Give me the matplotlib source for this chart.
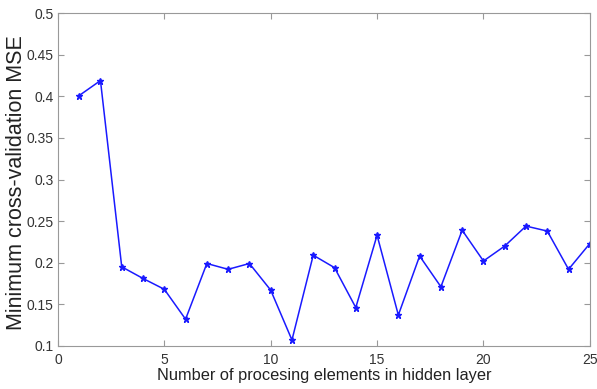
import matplotlib
matplotlib.use("Agg")
import matplotlib.pyplot as plt

x_vals = list(range(1, 26))
mse = [0.401, 0.419, 0.195, 0.181, 0.168, 0.132, 0.199, 0.192, 0.199, 0.167,
       0.107, 0.209, 0.194, 0.146, 0.233, 0.137, 0.208, 0.171, 0.239, 0.202,
       0.220, 0.244, 0.238, 0.192, 0.223]
x_ticks = [0, 5, 10, 15, 20, 25]
y_ticks = [0.1, 0.15, 0.2, 0.25, 0.3, 0.35, 0.4, 0.45, 0.5]
y_ticklabels = ["0.1", "0.15", "0.2", "0.25", "0.3", "0.35", "0.4", "0.45", "0.5"]

plt.rcParams['font.family'] = ['Liberation Sans', 'DejaVu Sans']
fig = plt.figure(figsize=(5.97, 3.89), dpi=100)
ax = fig.add_axes([0.097, 0.111, 0.891, 0.855])
ax.plot(x_vals, mse, color='#1a1aff', lw=1.1, marker='*', markersize=4.5)
ax.set_xlim(0, 25)
ax.set_ylim(0.1, 0.5)
ax.set_xticks(x_ticks)
ax.set_yticks(y_ticks)
ax.set_yticklabels(y_ticklabels)
ax.tick_params(direction='in', length=4, colors='#999999', labelsize=10,
               labelcolor='#333333', top=True, right=True)
ax.tick_params(axis='x', pad=5)
ax.tick_params(axis='y', pad=3)
for s in ax.spines.values():
    s.set_color('#999999')
ax.set_xlabel('Number of procesing elements in hidden layer', fontsize=11.8,
              color='#222222')
ax.set_ylabel('Minimum cross-validation MSE', fontsize=15.5, color='#222222')
ax.xaxis.set_label_coords(0.5, -0.068)
ax.yaxis.set_label_coords(-0.058, 0.49)
fig.savefig('out.png', dpi=100)
